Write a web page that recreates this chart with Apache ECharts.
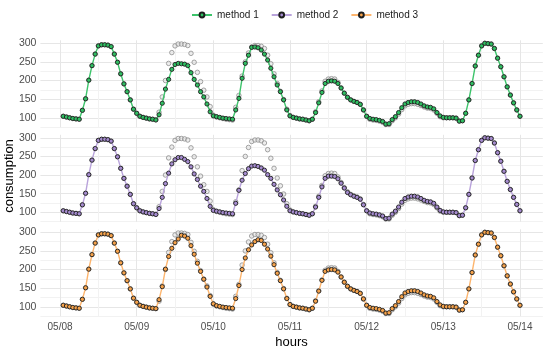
<!DOCTYPE html>
<html><head><meta charset="utf-8">
<script src="https://cdn.jsdelivr.net/npm/echarts@6/dist/echarts.min.js"></script>
<style>html,body{margin:0;padding:0;background:#fff}#c{width:550px;height:352px}</style>
</head><body><div id="c"></div>
<script>
// ---- data ----
const dayLabels = ['05/08','05/09','05/10','05/11','05/12','05/13','05/14'];
const dayTicks = [0,24,48,72,96,120,144];
const noonTicks = [12,36,60,84,108,132];
const yTicks = [100,150,200,250,300];
const yMinorTicks = [75,125,175,225,275];
const methodNames = ['method 1','method 2','method 3'];

// observed consumption (grey), hourly from 05/08 01:00 to 05/14 00:00
const actual = [
104,102,100,98,97,96,120,151,201,240,271,293,296,296,295,291,271,249,218,191,170,148,123,112,
104,101,99,97,96,95,115,156,200,246,275,293,298,298,297,294,273,249,222,197,174,156,130,107,
102,100,98,96,95,94,128,160,212,250,274,290,294,294,292,286,268,245,218,192,171,149,123,106,
101,99,97,96,94,92,96,116,143,172,198,204,205,204,195,180,166,155,148,144,141,136,121,104,
96,94,93,91,88,82,82,92,100,110,122,132,136,138,138,136,133,129,126,125,121,112,103,100,
100,100,100,99,91,92,112,148,192,239,268,293,300,299,298,286,260,237,210,183,161,140,121,104];

const method1 = [
104,102,100,98,97,96,120,151,201,240,271,293,296,296,295,291,271,249,218,191,170,148,123,112,
104,101,99,97,96,94,108,139,177,203,230,243,246,245,244,240,221,203,188,170,156,137,116,105,
103,101,99,98,97,96,121,152,206,246,268,289,290,288,282,271,255,233,210,188,170,148,121,105,
101,99,97,96,94,92,96,114,140,168,192,198,199,198,192,180,166,155,148,144,141,136,121,104,
98,96,95,93,90,83,84,95,103,114,127,137,141,143,143,141,137,132,129,128,124,114,105,101,
100,100,100,99,91,92,112,148,192,239,268,293,300,299,298,286,260,237,210,183,161,140,121,104];

const method2 = [
104,102,100,98,97,96,120,151,201,240,271,293,296,296,295,291,271,249,218,191,170,148,123,112,
104,101,99,97,96,94,110,140,177,205,230,241,247,247,242,236,222,203,188,170,156,137,116,105,
103,101,99,98,97,96,124,159,186,204,217,224,225,223,219,213,201,191,175,160,147,133,116,104,
101,99,97,96,94,92,96,114,140,168,191,197,197,196,190,178,165,153,147,143,140,135,120,104,
98,96,95,93,90,83,84,95,103,114,127,137,141,143,143,141,137,132,129,128,124,114,105,101,
100,100,100,99,91,92,112,148,192,239,268,293,300,299,298,286,260,237,210,183,161,140,121,104];

const method3 = [
104,102,100,98,97,96,120,151,201,240,271,293,296,296,295,291,271,249,218,191,170,148,123,112,
104,101,99,97,96,95,119,154,201,235,257,272,282,292,290,284,264,241,217,195,174,153,128,108,
103,101,99,98,97,96,122,157,200,231,253,266,275,280,278,268,255,236,213,190,170,148,122,106,
101,99,97,96,94,92,96,115,142,171,195,199,200,199,193,180,166,155,148,144,141,136,121,104,
98,96,95,93,90,83,84,95,103,114,127,137,141,143,143,141,137,132,129,128,124,114,105,101,
100,100,100,99,91,92,112,148,192,239,268,293,300,299,298,286,260,237,210,183,161,140,121,104];

// hours since 05/08 00:00
const hours = actual.map((_, i) => i + 1);

// ---- chart ----
const methods = [method1, method2, method3];
const lineColors = ['#3DC46B', '#B9A3DB', '#FDB56E'];
const fillColors = ['#2FBF62', '#A58BCF', '#F6A24A'];
const font = 'Liberation Sans, Arial, sans-serif';
const gridTops = [40.3, 134.8, 229.3];
const X_MIN = -6.15, X_MAX = 151.15, Y_MIN = 74.4, Y_MAX = 308;

const grids = [], xAxes = [], yAxes = [], series = [];
gridTops.forEach((top, i) => {
  grids.push({left: 40.4, width: 502.4, top: top, height: 87, containLabel: false});
});
// major axes 0..2
gridTops.forEach((top, i) => {
  xAxes.push({
    type: 'value', gridIndex: i, min: X_MIN, max: X_MAX,
    axisLine: {show: false}, axisTick: {show: false, customValues: dayTicks},
    axisLabel: {show: i === 2, customValues: dayTicks, formatter: v => dayLabels[Math.round(v / 24)],
      color: '#4d4d4d', fontSize: 10, fontFamily: font, margin: 6},
    splitLine: {show: true, lineStyle: {color: '#e6e6e6', width: 1}},
    name: i === 2 ? 'hours' : '', nameLocation: 'middle', nameGap: 20,
    nameTextStyle: {fontSize: 13, color: '#000', fontFamily: font}
  });
  yAxes.push({
    type: 'value', gridIndex: i, min: Y_MIN, max: Y_MAX,
    axisLine: {show: false}, axisTick: {show: false, customValues: yTicks},
    axisLabel: {customValues: yTicks, color: '#4d4d4d', fontSize: 10.5, fontFamily: font, margin: 4},
    splitLine: {show: true, lineStyle: {color: '#e6e6e6', width: 1}}
  });
});
// minor axes 3..5
gridTops.forEach((top, i) => {
  xAxes.push({
    type: 'value', gridIndex: i, min: X_MIN, max: X_MAX, position: 'bottom',
    axisLine: {show: false}, axisTick: {show: false, customValues: noonTicks},
    axisLabel: {show: false, customValues: noonTicks},
    splitLine: {show: true, lineStyle: {color: '#f2f2f2', width: 1}}
  });
  yAxes.push({
    type: 'value', gridIndex: i, min: Y_MIN, max: Y_MAX, position: 'left',
    axisLine: {show: false}, axisTick: {show: false, customValues: yMinorTicks},
    axisLabel: {show: false, customValues: yMinorTicks},
    splitLine: {show: true, lineStyle: {color: '#f2f2f2', width: 1}}
  });
});

gridTops.forEach((top, i) => {
  series.push({
    type: 'scatter', name: 'actual', xAxisIndex: i, yAxisIndex: i,
    data: hours.map((h, k) => [h, actual[k]]),
    symbol: 'circle', symbolSize: 4.5, z: 2, silent: true,
    itemStyle: {color: 'rgba(220,220,220,0.6)', borderColor: '#8f8f8f', borderWidth: 1}
  });
  series.push({
    type: 'line', name: methodNames[i], xAxisIndex: i, yAxisIndex: i,
    data: hours.map((h, k) => [h, methods[i][k]]),
    symbol: 'circle', symbolSize: 4.2, showSymbol: true, showAllSymbol: true, z: 3, silent: true,
    lineStyle: {color: lineColors[i], width: 1.4},
    itemStyle: {color: fillColors[i], borderColor: '#1e1e1e', borderWidth: 0.9}
  });
});

const chart = echarts.init(document.getElementById('c'), null, {renderer: 'canvas'});
chart.setOption({
  animation: false,
  backgroundColor: '#fff',
  legend: {
    data: methodNames, left: 186, top: 5, itemWidth: 20, itemHeight: 6, itemGap: 12,
    textStyle: {fontSize: 10, color: '#1a1a1a', fontFamily: font}
  },
  graphic: [{
    type: 'text', left: 3, top: 'middle', rotation: Math.PI / 2,
    style: {text: 'consumption', fontSize: 13, fill: '#000', fontFamily: font},
    x: 0, y: 0
  }],
  grid: grids, xAxis: xAxes, yAxis: yAxes, series: series
});
</script></body></html>
